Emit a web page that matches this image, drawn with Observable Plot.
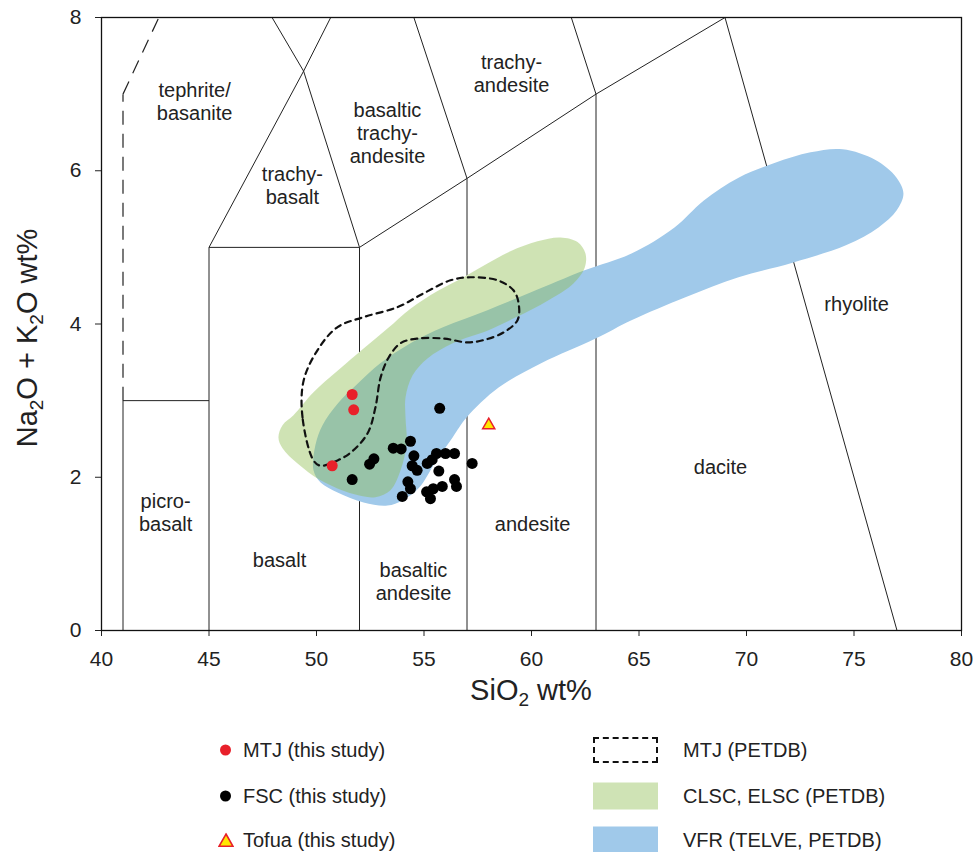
<!DOCTYPE html>
<html>
<head>
<meta charset="utf-8">
<script src="https://cdn.jsdelivr.net/npm/d3@7"></script>
<script src="https://cdn.jsdelivr.net/npm/@observablehq/plot@0.6"></script>
<style>
  html, body { margin: 0; padding: 0; background: #fff; }
  body { width: 977px; height: 852px; overflow: hidden; font-family: "Liberation Sans", Arial, sans-serif; }
  #legend { position: relative; width: 977px; height: 140px; color: #222; font-size: 20px; }
  #legend .item { position: absolute; white-space: nowrap; transform: translateY(-50%); line-height: 1.1; }
  #legend .sw { position: absolute; transform: translateY(-50%); box-sizing: border-box; }
</style>
</head>
<body>
<div id="chart"></div>
<div id="legend"></div>
<script>
// ---- Data ----
const xTicks = [40, 45, 50, 55, 60, 65, 70, 75, 80];
const yTicks = [0, 2, 4, 6, 8];

// MTJ (this study)
const mtjSiO2 = [51.66, 51.73, 50.73];
const mtjAlk  = [3.08, 2.88, 2.15];

// FSC (this study)
const fscSiO2 = [55.73, 54.37, 53.57, 53.94, 54.53, 54.45, 54.68, 55.15, 55.38, 55.58, 56.0, 56.42, 55.69, 57.24,
                 52.67, 52.47, 51.66, 54.25, 54.37, 53.99, 55.12, 55.43, 55.85, 55.30, 56.42, 56.51];
const fscAlk  = [2.90, 2.47, 2.38, 2.37, 2.28, 2.15, 2.09, 2.18, 2.23, 2.31, 2.31, 2.31, 2.08, 2.18,
                 2.24, 2.17, 1.97, 1.94, 1.85, 1.75, 1.81, 1.85, 1.88, 1.72, 1.97, 1.88];

// Tofua (this study)
const tofuaSiO2 = [58.01];
const tofuaAlk  = [2.68];

// Field outlines [SiO2, Na2O+K2O]
const greenRegion = [[48.23,2.52],[48.42,2.68],[48.93,2.81],[49.86,3.11],[50.98,3.39],[52.19,3.68],[53.30,3.94],
  [54.37,4.20],[55.63,4.43],[56.84,4.61],[57.95,4.79],[59.02,4.95],[60.28,5.08],[61.35,5.13],[62.14,5.07],
  [62.51,4.92],[62.47,4.73],[61.95,4.53],[60.79,4.31],[59.30,4.09],[58.0,3.92],[56.33,3.75],[55.16,3.55],
  [54.47,3.33],[54.14,3.04],[54.14,2.78],[54.19,2.44],[53.91,2.09],[53.44,1.83],[52.74,1.74],[51.72,1.78],
  [50.19,1.96],[49.12,2.18],[48.42,2.38]];
const blueRegion = [[49.86,2.09],[49.95,2.42],[50.28,2.68],[50.98,2.96],[51.91,3.22],[52.98,3.49],[54.37,3.75],
  [55.91,3.96],[57.95,4.18],[59.95,4.41],[62.47,4.70],[64.65,4.92],[66.65,5.26],[68.0,5.61],[69.63,5.91],
  [71.30,6.10],[72.98,6.24],[74.47,6.28],[76.0,6.14],[76.98,5.91],[77.30,5.70],[76.98,5.48],[76.14,5.26],
  [74.65,5.03],[72.14,4.80],[69.63,4.61],[67.16,4.35],[64.65,4.05],[62.98,3.81],[60.47,3.49],[58.47,3.17],
  [56.98,2.78],[56.33,2.52],[55.49,2.18],[54.79,1.87],[54.0,1.70],[53.30,1.63],[52.19,1.67],[50.98,1.80],[50.19,1.93]];
const mtjRegion = [[49.86,2.22],[49.35,2.78],[49.40,3.26],[50.05,3.66],[50.98,3.96],[52.19,4.09],[53.77,4.22],
  [54.98,4.40],[56.23,4.57],[57.16,4.61],[58.42,4.57],[59.16,4.44],[59.40,4.27],[59.35,4.05],[58.70,3.89],
  [57.77,3.79],[57.02,3.76],[55.91,3.81],[54.70,3.81],[53.91,3.75],[53.35,3.56],[52.98,3.30],[52.74,2.91],
  [52.37,2.57],[51.58,2.32],[50.98,2.22],[50.19,2.15]];

// TAS boundaries [x1, y1, x2, y2]
const tasSolid = [[41,0,41,3],[41,3,45,3],[45,0,45,5],[45,5,52,5],[52,0,52,5],[52,5,57,5.9],[57,0,57,5.9],
  [57,5.9,63,7],[63,0,63,7],[63,7,69,8],[45,5,49.4,7.3],[49.4,7.3,53,9.3],[52,5,49.4,7.3],[49.4,7.3,45,9.4],
  [57,5.9,53,9.3],[63,7,57.6,11.7],[77,0,69,8]];
const tasDashed = [[41,3,41,7],[41,7,45,9.4]];

// Field names
const fieldNames = ["tephrite/\nbasanite","trachy-\nbasalt","basaltic\ntrachy-\nandesite","trachy-\nandesite",
  "picro-\nbasalt","basalt","basaltic\nandesite","andesite","dacite","rhyolite"];
const fieldX = [44.33, 48.88, 53.30, 59.07, 42.98, 48.28, 54.51, 60.05, 68.79, 75.12];
const fieldY = [6.91, 5.81, 6.50, 7.28, 1.54, 0.93, 0.65, 1.40, 2.14, 4.27];

const legendLeft = ["MTJ (this study)", "FSC (this study)", "Tofua (this study)"];
const legendRight = ["MTJ (PETDB)", "CLSC, ELSC (PETDB)", "VFR (TELVE, PETDB)"];

// ---- Build ----
const mtj = mtjSiO2.map((x, i) => ({x, y: mtjAlk[i]}));
const fsc = fscSiO2.map((x, i) => ({x, y: fscAlk[i]}));
const tofua = tofuaSiO2.map((x, i) => ({x, y: tofuaAlk[i]}));
const fields = fieldNames.map((t, i) => ({t, x: fieldX[i], y: fieldY[i]}));
const seg = a => a.map(d => ({x1: d[0], y1: d[1], x2: d[2], y2: d[3]}));

const GREEN_FILL = "rgb(140,188,76)";
const BLUE_FILL = "rgb(160,201,234)";

const chart = Plot.plot({
  width: 977,
  height: 712,
  marginLeft: 101,
  marginRight: 16,
  marginTop: 17,
  marginBottom: 82,
  style: {fontFamily: "'Liberation Sans', Arial, sans-serif", fontSize: "21px", color: "#222", background: "white", overflow: "visible"},
  x: {domain: [40, 80], ticks: xTicks, tickSize: 6, tickPadding: 15, label: null},
  y: {domain: [0, 8], ticks: yTicks, tickSize: 6, tickPadding: 14, label: null},
  marks: [
    Plot.link(seg(tasSolid), {x1: "x1", y1: "y1", x2: "x2", y2: "y2", stroke: "#222", strokeWidth: 1, clip: true}),
    Plot.link(seg(tasDashed), {x1: "x1", y1: "y1", x2: "x2", y2: "y2", stroke: "#222", strokeWidth: 1.2, strokeDasharray: "14,9", clip: true}),
    Plot.line(greenRegion, {x: d => d[0], y: d => d[1], curve: "catmull-rom-closed", fill: "white", stroke: "none"}),
    Plot.line(blueRegion, {x: d => d[0], y: d => d[1], curve: "catmull-rom-closed", fill: BLUE_FILL, stroke: "none"}),
    Plot.line(greenRegion, {x: d => d[0], y: d => d[1], curve: "catmull-rom-closed", fill: GREEN_FILL, fillOpacity: 0.42, stroke: "none"}),
    Plot.line(mtjRegion, {x: d => d[0], y: d => d[1], curve: "catmull-rom-closed", fill: "none", stroke: "#111", strokeWidth: 2.2, strokeDasharray: "6,5"}),
    Plot.text(fields, {x: "x", y: "y", text: "t", fontSize: 20, lineHeight: 1.15, fill: "#222"}),
    Plot.dot(fsc, {x: "x", y: "y", r: 5.5, fill: "black", stroke: "none"}),
    Plot.dot(mtj, {x: "x", y: "y", r: 5.5, fill: "#e8202a", stroke: "none"}),
    Plot.dot(tofua, {x: "x", y: "y", r: 4.5, symbol: "triangle", fill: "#ffe600", stroke: "#e8202a", strokeWidth: 1.5}),
    Plot.frame({stroke: "#111", strokeWidth: 1.3})
  ]
});
document.getElementById("chart").appendChild(chart);

// Axis titles with subscripts
const svg = d3.select(chart);
const xt = svg.append("text").attr("x", 531).attr("y", 700).attr("text-anchor", "middle")
  .attr("fill", "#222").style("font-size", "29px");
xt.append("tspan").text("SiO");
xt.append("tspan").attr("dy", 6).style("font-size", "19px").text("2");
xt.append("tspan").attr("dy", -6).text(" wt%");

const yt = svg.append("text").attr("transform", "translate(37,338) rotate(-90)").attr("text-anchor", "middle")
  .attr("fill", "#222").style("font-size", "29px");
yt.append("tspan").text("Na");
yt.append("tspan").attr("dy", 6).style("font-size", "19px").text("2");
yt.append("tspan").attr("dy", -6).text("O + K");
yt.append("tspan").attr("dy", 6).style("font-size", "19px").text("2");
yt.append("tspan").attr("dy", -6).text("O wt%");

// Legend (HTML)
const legend = document.getElementById("legend");
const rowsY = [38, 84, 128];
function add(html, cls, style) {
  const el = document.createElement("div");
  el.className = cls; el.innerHTML = html;
  Object.assign(el.style, style);
  legend.appendChild(el);
}
add("", "sw", {left: "220px", top: rowsY[0] + "px", width: "11px", height: "11px", borderRadius: "50%", background: "#e8202a"});
add("", "sw", {left: "220px", top: rowsY[1] + "px", width: "11px", height: "11px", borderRadius: "50%", background: "#000"});
add('<svg width="16" height="15" viewBox="0 0 16 15"><polygon points="8,1.5 15,13.8 1,13.8" fill="#ffe600" stroke="#e8202a" stroke-width="1.6"/></svg>',
  "sw", {left: "218px", top: rowsY[2] + "px", width: "16px", height: "15px", lineHeight: "0"});
legendLeft.forEach((t, i) => add(t, "item", {left: "243px", top: rowsY[i] + "px"}));
add("", "sw", {left: "593px", top: rowsY[0] + "px", width: "65px", height: "26px", border: "2.2px dashed #111"});
add("", "sw", {left: "593px", top: rowsY[1] + "px", width: "65px", height: "27px", background: "rgb(207,227,181)"});
add("", "sw", {left: "593px", top: rowsY[2] + "px", width: "65px", height: "27px", background: BLUE_FILL});
legendRight.forEach((t, i) => add(t, "item", {left: "683px", top: rowsY[i] + "px"}));
</script>
</body>
</html>
